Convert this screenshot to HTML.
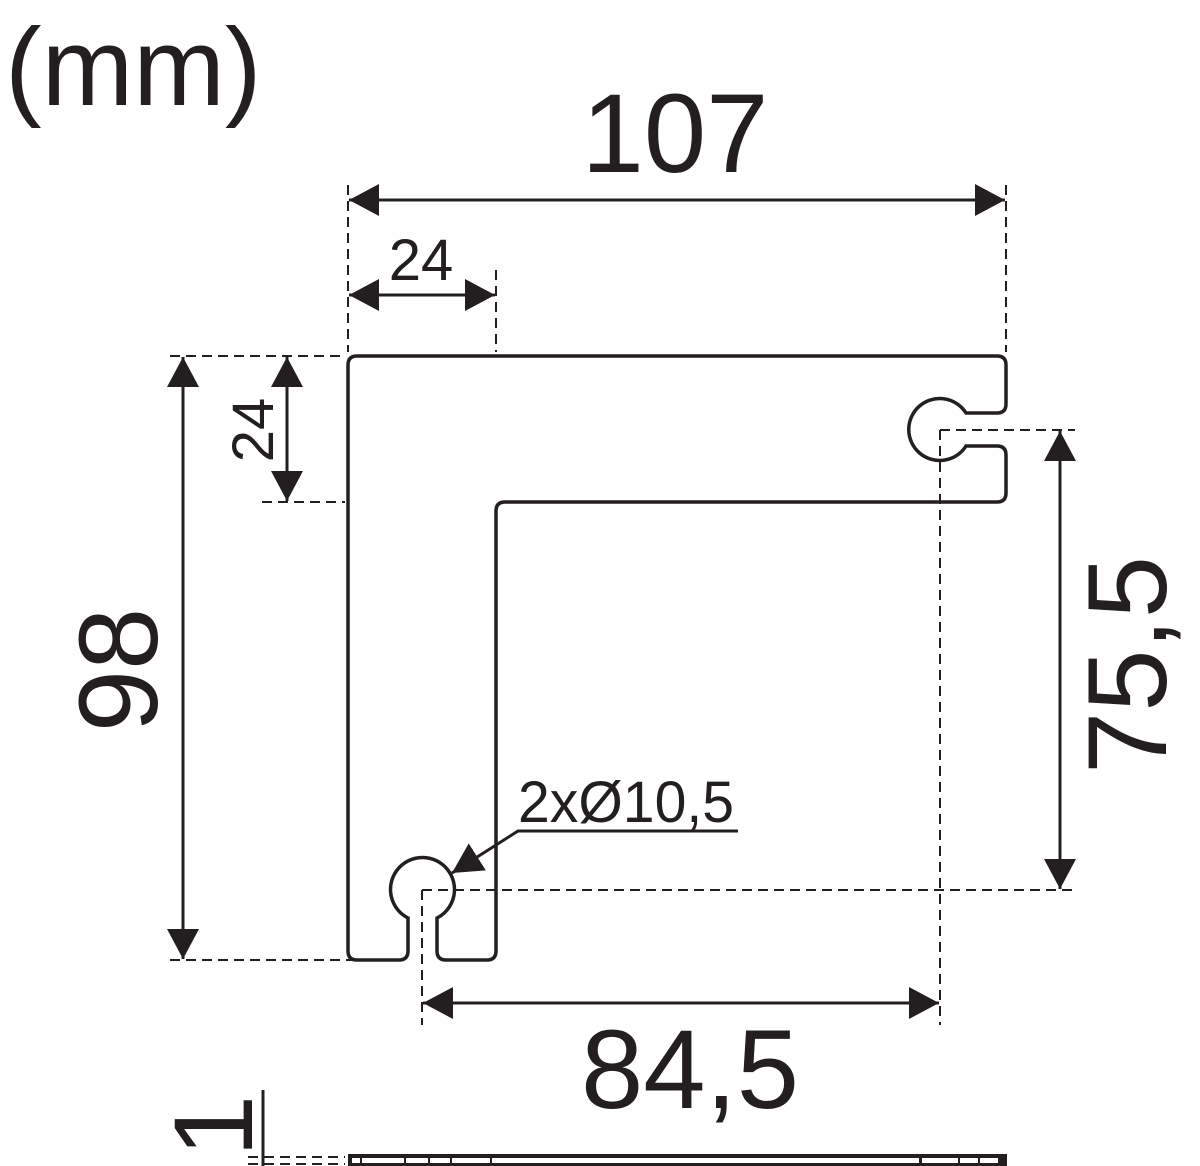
<!DOCTYPE html>
<html><head><meta charset="utf-8"><style>
html,body{margin:0;padding:0;background:#fff;}
svg{display:block;}
text{font-family:"Liberation Sans",sans-serif;fill:#231f20;}
</style></head><body>
<svg width="1200" height="1166" viewBox="0 0 1200 1166" xmlns="http://www.w3.org/2000/svg">
<defs>
<marker id="a" viewBox="0 0 30 32" refX="30" refY="16" markerWidth="30" markerHeight="32" markerUnits="userSpaceOnUse" orient="auto-start-reverse">
<path d="M0 0 L30 16 L0 32 Z" fill="#231f20"/>
</marker>
</defs>
<g fill="none" stroke="#231f20">
<!-- part outline -->
<path stroke-width="3.5" d="M357 356 H997 Q1006 356 1006 365 V404 Q1006 413 997 413 H966 A31 31 0 1 0 966 446 H997 Q1006 446 1006 455 V493 Q1006 502 997 502 H505 Q496 502 496 511 V951 Q496 960 487 960 H446 Q437 960 437 951 V918 A32 32 0 1 0 408 918 V951 Q408 960 399 960 H357 Q348 960 348 951 V365 Q348 356 357 356 Z"/>
<!-- dashed extension lines -->
<g stroke-width="2" stroke-dasharray="10 6">
<line x1="348" y1="185" x2="348" y2="352"/>
<line x1="1006" y1="185" x2="1006" y2="352"/>
<line x1="496" y1="270" x2="496" y2="352"/>
<line x1="170" y1="356" x2="345" y2="356"/>
<line x1="170" y1="960" x2="355" y2="960"/>
<line x1="262" y1="502" x2="345" y2="502"/>
<line x1="940" y1="430" x2="1075" y2="430"/>
<line x1="422" y1="890" x2="1075" y2="890"/>
<line x1="940" y1="430" x2="940" y2="1025"/>
<line x1="422" y1="890" x2="422" y2="1025"/>
<line x1="248" y1="1157" x2="345" y2="1157"/>
<line x1="248" y1="1164" x2="345" y2="1164"/>
</g>
<!-- dimension lines -->
<g stroke-width="3">
<line x1="349" y1="200" x2="1005" y2="200" marker-start="url(#a)" marker-end="url(#a)"/>
<line x1="349" y1="295" x2="495" y2="295" marker-start="url(#a)" marker-end="url(#a)"/>
<line x1="183" y1="357" x2="183" y2="959" marker-start="url(#a)" marker-end="url(#a)"/>
<line x1="287" y1="357" x2="287" y2="501" marker-start="url(#a)" marker-end="url(#a)"/>
<line x1="1060" y1="431" x2="1060" y2="889" marker-start="url(#a)" marker-end="url(#a)"/>
<line x1="423" y1="1003" x2="939" y2="1003" marker-start="url(#a)" marker-end="url(#a)"/>
<polyline points="738,831 518,831 452,873" marker-end="url(#a)"/>
<line x1="263" y1="1090" x2="263" y2="1166"/>
</g>
</g>
<!-- side strip -->
<rect x="348" y="1154" width="659" height="12" fill="#231f20"/>
<g fill="#fff">
<rect x="352" y="1158" width="8" height="5"/>
<rect x="362" y="1158" width="42" height="5"/>
<rect x="406" y="1158" width="22" height="5"/>
<rect x="430" y="1158" width="20" height="5"/>
<rect x="452" y="1158" width="38" height="5"/>
<rect x="492" y="1158" width="200" height="5"/>
<rect x="732" y="1158" width="0" height="5"/>
<rect x="494" y="1158" width="242" height="5"/>
<rect x="738" y="1158" width="0" height="5"/>
<rect x="529" y="1158" width="0" height="5"/>
<rect x="494" y="1158" width="0" height="5"/>
<rect x="494" y="1158" width="250" height="5"/>
<rect x="494" y="1158" width="420" height="5"/>
<rect x="496" y="1158" width="0" height="5"/>
<rect x="529" y="1158" width="0" height="5"/>
<rect x="529" y="1158" width="390" height="5"/>
<rect x="922" y="1158" width="36" height="5"/>
<rect x="960" y="1158" width="18" height="5"/>
<rect x="980" y="1158" width="18" height="5"/>
</g>
<!-- texts -->
<text x="5" y="105" font-size="110">(mm)</text>
<text x="675" y="172" font-size="112" text-anchor="middle">107</text>
<text x="421" y="280" font-size="58" text-anchor="middle">24</text>
<text x="518" y="822" font-size="58" textLength="216" lengthAdjust="spacingAndGlyphs">2xØ10,5</text>
<text x="690" y="1108" font-size="112" text-anchor="middle">84,5</text>
<text transform="translate(157,670) rotate(-90)" font-size="112" text-anchor="middle">98</text>
<text transform="translate(273,430) rotate(-90)" font-size="58" text-anchor="middle">24</text>
<text transform="translate(1166,665) rotate(-90)" font-size="112" text-anchor="middle">75,5</text>
<text transform="translate(252,1126) rotate(-90)" font-size="112" text-anchor="middle">1</text>
</svg>
</body></html>
